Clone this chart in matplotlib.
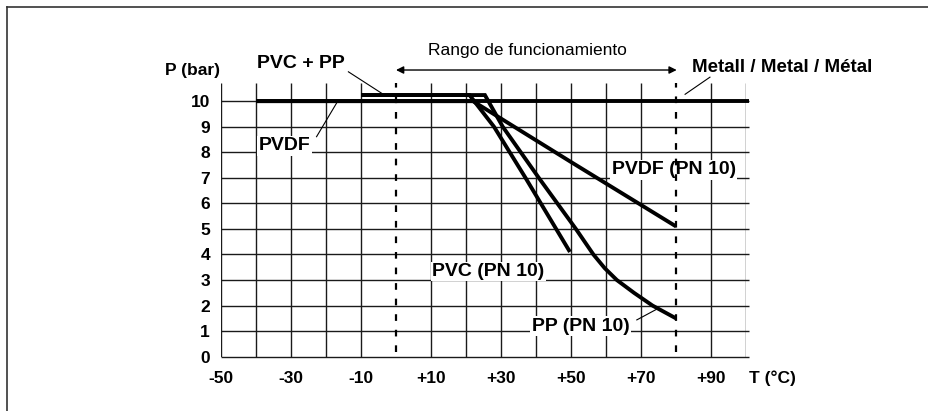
import matplotlib
matplotlib.use("Agg")
import matplotlib.pyplot as plt
from matplotlib.lines import Line2D

plt.rcParams['font.family'] = ['Liberation Sans', 'DejaVu Sans']

# ---- data ----
y_ticks = [0, 1, 2, 3, 4, 5, 6, 7, 8, 9, 10]
x_tick_vals = [-50, -30, -10, 10, 30, 50, 70, 90]
x_tick_labels = ['-50', '-30', '-10', '+10', '+30', '+50', '+70', '+90']
x_grid = [-50, -40, -30, -20, -10, 10, 20, 30, 40, 50, 60, 70, 90, 100]
range_limits = [0, 80]

metal_T = [-40, 101]
metal_P = [10, 10]

pvdf_T = [-40, 22, 50, 80]
pvdf_P = [10, 10, 7.62, 5.1]

pvc_T = [-10, 21, 28, 37, 49.7]
pvc_P = [10.24, 10.24, 9.0, 7.0, 4.1]

pp_T = [-10, 25.4, 30.5, 40.8, 51.4, 56.4, 59.6, 63.1, 68, 73.3, 80]
pp_P = [10.24, 10.24, 9.0, 7.0, 5.0, 4.0, 3.47, 3.0, 2.5, 2.0, 1.5]

W, H = 929, 411
fig = plt.figure(figsize=(W / 100, H / 100), dpi=100)
ax = fig.add_axes([221 / W, (H - 356.7) / H, 525 / W, (356.7 - 83.3) / H])
ax.set_xlim(-50, 100)
ax.set_ylim(0, 10.7)
for s in ax.spines.values():
    s.set_visible(False)

gc = '#1a1a1a'
# grid
ax.vlines(x_grid, 0, 10.7, color=gc, lw=1.0, zorder=1)
ax.hlines(y_ticks, -50, 100.8, color=gc, lw=1.0, zorder=1, clip_on=False)

# ticks
ax.set_yticks(y_ticks)
ax.set_yticklabels([str(v) for v in y_ticks], fontsize=12.5, fontweight='bold')
ax.set_xticks(x_tick_vals)
ax.set_xticklabels(x_tick_labels, fontsize=12.5, fontweight='bold')
ax.tick_params(axis='both', length=0)
ax.tick_params(axis='y', pad=8)
ax.tick_params(axis='x', pad=10)

# data lines
lw = 2.8
common = dict(color='black', zorder=3, solid_capstyle='butt', solid_joinstyle='miter')
ax.plot(metal_T, metal_P, lw=lw, clip_on=False, **common)
ax.plot(pvdf_T, pvdf_P, lw=lw, **common)
ax.plot(pvc_T, pvc_P, lw=lw, **common)
ax.plot(pp_T, pp_P, lw=lw, **common)

# dashed range lines
for t in range_limits:
    ax.plot([t, t], [0.2, 10.7], color='black', lw=1.6,
            linestyle=(0, (3.0, 4.0)), zorder=5, clip_on=False)

# arrow
ax.annotate('', xy=(0, 11.22), xytext=(80.2, 11.22), xycoords='data',
            arrowprops=dict(arrowstyle='<|-|>', lw=1.0, color='black',
                            mutation_scale=11, shrinkA=0, shrinkB=0),
            annotation_clip=False)
ax.text(37.6, 12.0, 'Rango de funcionamiento', fontsize=12.5, ha='center', va='center')

bold = dict(fontweight='bold')
box = dict(facecolor='white', edgecolor='none', pad=1.0)
ax.text(-50.3, 11.19, 'P (bar)', fontsize=12.5, ha='right', va='center', **bold)
ax.text(100.9, -0.83, 'T (°C)', fontsize=12.5, ha='left', va='center', clip_on=False, **bold)

ax.text(-39.8, 11.47, 'PVC + PP', fontsize=14, ha='left', va='center', **bold)
ax.plot([-13.6, -4.1], [11.15, 10.31], color='black', lw=0.8, clip_on=False, zorder=3)

ax.text(-39.3, 8.26, 'PVDF', fontsize=14, ha='left', va='center', bbox=box, zorder=2, **bold)
ax.plot([-22.7, -17.0], [8.61, 9.92], color='black', lw=0.8, zorder=3)

ax.text(84.5, 11.32, 'Metall / Metal / Métal', fontsize=13.5, ha='left', va='center', **bold)
ax.plot([82.6, 89.7], [10.27, 10.94], color='black', lw=0.8, clip_on=False, zorder=3)

ax.text(61.6, 7.31, 'PVDF (PN 10)', fontsize=14, ha='left', va='center', bbox=box, zorder=2, **bold)
ax.text(10.4, 3.33, 'PVC (PN 10)', fontsize=14, ha='left', va='center', bbox=box, zorder=2, **bold)
ax.text(38.8, 1.2, 'PP (PN 10)', fontsize=14, ha='left', va='center', bbox=box, zorder=2, **bold)
ax.plot([68.8, 74.5], [1.44, 1.86], color='black', lw=0.8, zorder=3)

# outer frame (left and top edges)
fig.add_artist(Line2D([7 / W, 7 / W], [0, 1 - 7 / H], color='#333333', lw=1.2))
fig.add_artist(Line2D([7 / W, 1], [1 - 7 / H, 1 - 7 / H], color='#333333', lw=1.2))

fig.savefig('out.png', dpi=100)
